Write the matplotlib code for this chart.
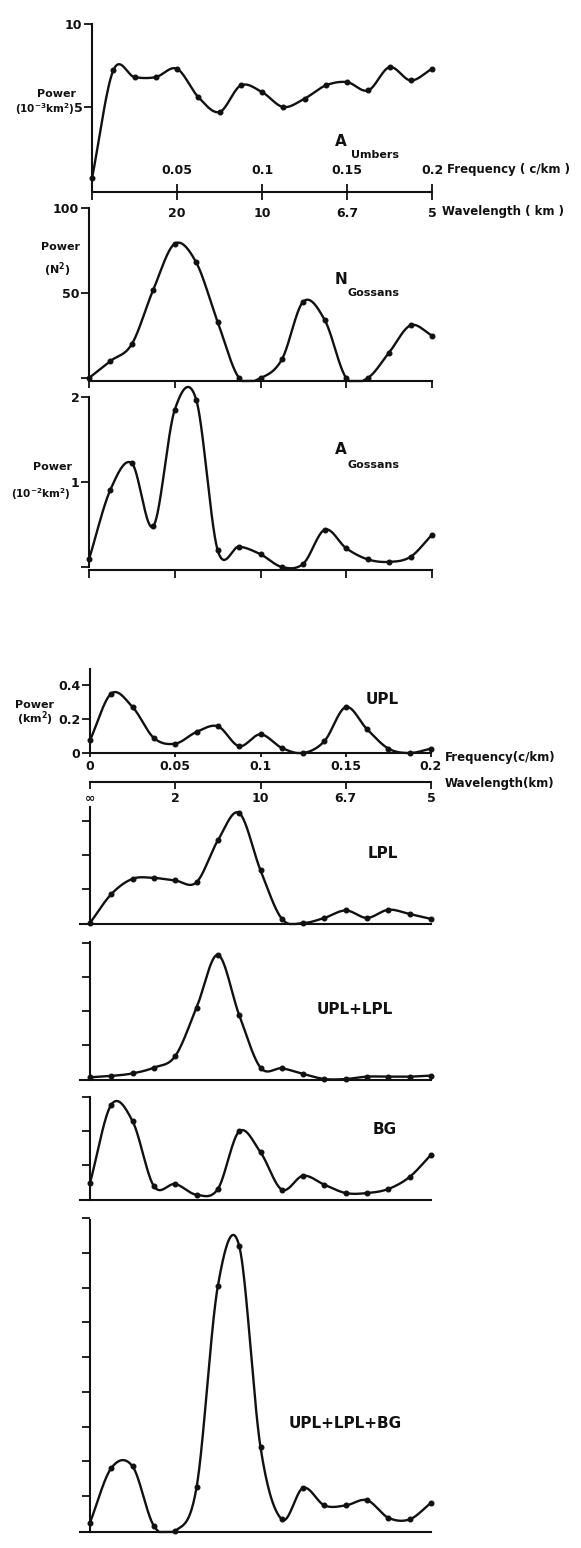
import numpy as np
import matplotlib.pyplot as plt

W, H = 581, 1548

# frequency samples (c/km) shared by every spectrum
freq = [0.0, 0.0125, 0.025, 0.0375, 0.05, 0.0625, 0.075, 0.0875, 0.1,
        0.1125, 0.125, 0.1375, 0.15, 0.1625, 0.175, 0.1875, 0.2]

# upper block
a_umbers = [0.7, 7.2, 6.8, 6.8, 7.3, 5.6, 4.7, 6.3, 5.9, 5.0, 5.5, 6.3, 6.5, 6.0, 7.4, 6.6, 7.3]
n_gossans = [0, 10, 20, 52, 79, 68, 33, 0, 0, 11, 45, 34, 0, 0, 15, 31, 25]
a_gossans = [0.09, 0.91, 1.22, 0.48, 1.85, 1.97, 0.2, 0.24, 0.15, 0.0, 0.04, 0.44, 0.22, 0.09, 0.06, 0.12, 0.38]

# lower block
upl = [0.075, 0.35, 0.27, 0.088, 0.055, 0.124, 0.157, 0.04, 0.11, 0.03, 0.0, 0.07, 0.27, 0.14, 0.026, 0.0, 0.026]
lpl = [0.0, 0.17, 0.26, 0.265, 0.25, 0.24, 0.486, 0.647, 0.31, 0.025, 0.0, 0.03, 0.074, 0.03, 0.078, 0.053, 0.024]
upl_lpl = [0.01, 0.018, 0.033, 0.067, 0.135, 0.42, 0.73, 0.376, 0.067, 0.063, 0.03, 0.0, 0.0, 0.014, 0.014, 0.014, 0.02]
bg = [0.094, 0.555, 0.457, 0.075, 0.088, 0.025, 0.059, 0.398, 0.275, 0.055, 0.137, 0.084, 0.035, 0.035, 0.059, 0.13, 0.26]
upl_lpl_bg = [0.048, 0.362, 0.371, 0.029, 0.0, 0.251, 1.41, 1.64, 0.482, 0.067, 0.248, 0.147, 0.147, 0.177, 0.076, 0.067, 0.162]

axis_ticks = [0, 0.05, 0.1, 0.15, 0.2]
freq_labels = ['0', '0.05', '0.1', '0.15', '0.2']
wave_labels_top = ['', '20', '10', '6.7', '5']
wave_labels_bottom = ['\u221e', '2', '10', '6.7', '5']

plt.rcParams['font.family'] = ['DejaVu Sans']
plt.rcParams['font.weight'] = 'bold'
INK = '#111111'

fig = plt.figure(figsize=(W / 100, H / 100), dpi=100)


def ftext(x, y, s, **kw):
    # place text by pixel position (origin top-left)
    kw.setdefault('ha', 'center')
    kw.setdefault('va', 'center')
    kw.setdefault('color', INK)
    fig.text(x / W, 1 - y / H, s, **kw)


def smooth(x, y, n=40):
    # Hermite (Catmull-Rom) curve through the points, used only for drawing
    x = np.asarray(x, float)
    y = np.asarray(y, float)
    m = np.gradient(y, x)
    t = np.linspace(0, 1, n, endpoint=False)
    h00 = 2 * t**3 - 3 * t**2 + 1
    h10 = t**3 - 2 * t**2 + t
    h01 = -2 * t**3 + 3 * t**2
    h11 = t**3 - t**2
    xs, ys = [], []
    for i in range(len(x) - 1):
        h = x[i + 1] - x[i]
        xs.append(x[i] + t * h)
        ys.append(h00 * y[i] + h10 * h * m[i] + h01 * y[i + 1] + h11 * h * m[i + 1])
    xs.append([x[-1]])
    ys.append([y[-1]])
    return np.concatenate(xs), np.concatenate(ys)


def panel(left, right, top, bottom, zero, scale, xmin=0.0):
    # left/right are pixels of freq 0 / 0.2; top/bottom pixels of spine ends
    x_left = left + xmin / 0.2 * (right - left)
    ax = fig.add_axes([x_left / W, 1 - bottom / H, (right - x_left) / W, (bottom - top) / H])
    ax.set_xlim(xmin, 0.2)
    ax.set_ylim((zero - bottom) / scale, (zero - top) / scale)
    ax.patch.set_visible(False)
    for s in ['top', 'right']:
        ax.spines[s].set_visible(False)
    for s in ['left', 'bottom']:
        ax.spines[s].set_linewidth(1.5)
        ax.spines[s].set_color(INK)
    ax.spines['left'].set_position(('data', 0))
    ax.spines['left'].set_bounds(0 if xmin == 0 else (zero - bottom) / scale, (zero - top) / scale)
    ax.tick_params(colors=INK, width=1.3, labelsize=9)
    ax.tick_params(axis='y', direction='out', length=6, pad=1)
    return ax


def curve(ax, values):
    xs, ys = smooth(freq, values)
    lo = ax.get_ylim()[0]
    ys = np.maximum(ys, lo)
    ax.plot(xs, ys, color=INK, lw=1.7, clip_on=False, solid_joinstyle='round')
    ax.plot(freq, values, 'o', color=INK, ms=3.3, clip_on=False)


def yfrac(top, bottom, ypix):
    return (bottom - ypix) / (bottom - top)


# ---------------- upper block ----------------
L, R = 92, 432

# A Umbers
ax1 = panel(L, R, 24, 192, 190, 16.6)
curve(ax1, a_umbers)
ax1.set_yticks([5, 10], ['5', '10'])
ax1.set_xticks(axis_ticks, wave_labels_top)
ax1.tick_params(axis='x', direction='inout', length=12, pad=5, labelsize=9)
for f, lab in zip(axis_ticks[1:], freq_labels[1:]):
    ax1.text(f, yfrac(24, 192, 170), lab, transform=ax1.get_xaxis_transform(),
             ha='center', va='center', fontsize=9, color=INK)
ftext(447, 170, 'Frequency ( c/km )', ha='left', fontsize=8.5)
ftext(442, 212, 'Wavelength ( km )', ha='left', fontsize=8.5)
ftext(56, 94, 'Power', fontsize=8)
ftext(45, 109, '(10$^{\\mathbf{-3}}$km$^{\\mathbf{2}}$)', fontsize=7.5)
ftext(341, 141, 'A', fontsize=11)
ftext(351, 155, 'Umbers', ha='left', fontsize=8)

# N Gossans
ax2 = panel(L - 3, R, 208, 381, 378, 1.7)
curve(ax2, n_gossans)
ax2.set_yticks([0, 50, 100], ['', '50', '100'])
ax2.set_xticks(axis_ticks)
ax2.tick_params(axis='x', direction='out', length=5, labelbottom=False)
ftext(61, 247, 'Power', fontsize=8)
ftext(57, 270, '(N$^{\\mathbf{2}}$)', fontsize=8)
ftext(341, 280, 'N', fontsize=11)
ftext(348, 293, 'Gossans', ha='left', fontsize=8)

# A Gossans
ax3 = panel(L - 3, R, 397, 570, 567, 85)
curve(ax3, a_gossans)
ax3.set_yticks([0, 1, 2], ['', '1', '2'])
ax3.set_xticks(axis_ticks)
ax3.tick_params(axis='x', direction='out', length=6, labelbottom=False)
ftext(53, 467, 'Power', fontsize=8)
ftext(41, 494, '(10$^{\\mathbf{-2}}$km$^{\\mathbf{2}}$)', fontsize=7.5)
ftext(341, 450, 'A', fontsize=11)
ftext(348, 465, 'Gossans', ha='left', fontsize=8)

# ---------------- lower block ----------------
L2, R2 = 90, 431
EXT = -0.006

ax4 = panel(L2, R2, 669, 753, 753, 170)
curve(ax4, upl)
ax4.set_yticks([0, 0.2, 0.4], ['0', '0.2', '0.4'])
ax4.set_xticks(axis_ticks, freq_labels)
ax4.tick_params(axis='x', direction='out', length=3, pad=2, labelsize=9)
sec = ax4.secondary_xaxis(-29 / 84)
sec.set_xticks(axis_ticks, wave_labels_bottom)
sec.spines['bottom'].set_linewidth(1.5)
sec.spines['bottom'].set_color(INK)
sec.tick_params(direction='out', length=5, width=1.3, pad=2, labelsize=9, colors=INK)
ftext(445, 757, 'Frequency(c/km)', ha='left', fontsize=8.5)
ftext(445, 783, 'Wavelength(km)', ha='left', fontsize=8.5)
ftext(35, 705, 'Power', fontsize=8)
ftext(35, 719, '(km$^{\\mathbf{2}}$)', fontsize=8)
ftext(382, 699, 'UPL', fontsize=11)

ax5 = panel(L2, R2, 807, 924, 923, 170, EXT)
curve(ax5, lpl)
ax5.set_yticks([0.2, 0.4, 0.6], [])
ax5.set_xticks([])
ftext(383, 853, 'LPL', fontsize=11)

ax6 = panel(L2, R2, 942, 1080, 1079, 170, EXT)
curve(ax6, upl_lpl)
ax6.set_yticks([0.2, 0.4, 0.6, 0.8], [])
ax6.set_xticks([])
ftext(355, 1010, 'UPL+LPL', fontsize=11)

ax7 = panel(L2, R2, 1097, 1200, 1199, 170, EXT)
curve(ax7, bg)
ax7.set_yticks([0.2, 0.4, 0.6], [])
ax7.set_xticks([])
ftext(385, 1129, 'BG', fontsize=11)

ax8 = panel(L2, R2, 1218, 1532, 1531, 175, EXT)
curve(ax8, upl_lpl_bg)
ax8.set_yticks([0.2, 0.4, 0.6, 0.8, 1.0, 1.2, 1.4, 1.6, 1.8], [])
ax8.set_xticks([])
ftext(345, 1423, 'UPL+LPL+BG', fontsize=11)

fig.savefig('out.png', dpi=100)
